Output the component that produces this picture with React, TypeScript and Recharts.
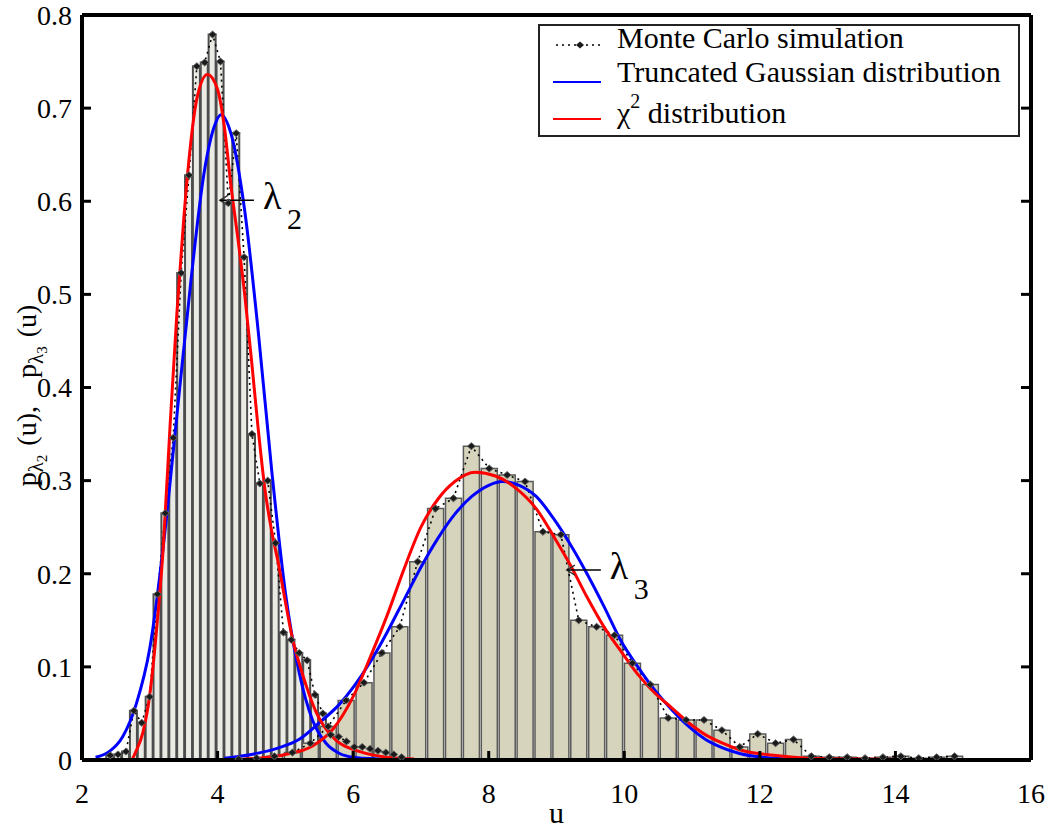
import React from 'react';
import { ComposedChart, Bar, Line, XAxis, YAxis, Legend, ReferenceDot } from 'recharts';

const SERIF = "'Liberation Serif', 'Times New Roman', serif";
const W = 1050;
const H = 832;
// plot box inside the svg: x 82..1031, y 15..760
const BOX_MARGIN = { top: 15, right: 19, bottom: 72, left: 82 };

const X_TICKS = [2, 4, 6, 8, 10, 12, 14, 16];
const Y_TICKS = [0, 0.1, 0.2, 0.3, 0.4, 0.5, 0.6, 0.7, 0.8];

// Monte Carlo histogram of lambda_2
const LAMBDA2_U = [2.416, 2.532, 2.649, 2.765, 2.881, 2.997, 3.113, 3.229, 3.346, 3.462, 3.578, 3.694, 3.81, 3.926, 4.043, 4.159, 4.275, 4.391, 4.507, 4.624, 4.74, 4.856, 4.972, 5.088, 5.204, 5.321, 5.437, 5.553, 5.669, 5.785, 5.901, 6.018, 6.134, 6.25, 6.366, 6.482, 6.599, 6.715];
const LAMBDA2_MC = [0.005, 0.006, 0.009, 0.053, 0.04, 0.068, 0.178, 0.265, 0.346, 0.523, 0.628, 0.745, 0.749, 0.779, 0.75, 0.598, 0.673, 0.54, 0.35, 0.297, 0.3, 0.233, 0.137, 0.129, 0.115, 0.107, 0.07, 0.05, 0.027, 0.025, 0.02, 0.014, 0.014, 0.012, 0.01, 0.008, 0.006, 0.003];

// Monte Carlo histogram of lambda_3
const LAMBDA3_U = [4.312, 4.576, 4.84, 5.104, 5.368, 5.632, 5.896, 6.16, 6.424, 6.688, 6.952, 7.216, 7.48, 7.744, 8.008, 8.272, 8.536, 8.8, 9.064, 9.328, 9.592, 9.856, 10.12, 10.384, 10.648, 10.912, 11.176, 11.44, 11.704, 11.968, 12.232, 12.496, 12.76, 13.024, 13.288, 13.552, 13.816, 14.08, 14.344, 14.608, 14.872];
const LAMBDA3_MC = [0.001, 0.002, 0.004, 0.008, 0.018, 0.036, 0.064, 0.083, 0.115, 0.143, 0.213, 0.27, 0.281, 0.337, 0.313, 0.306, 0.299, 0.245, 0.242, 0.15, 0.143, 0.134, 0.104, 0.081, 0.045, 0.043, 0.043, 0.032, 0.014, 0.028, 0.018, 0.022, 0.004, 0.003, 0.003, 0.002, 0.003, 0.004, 0.002, 0.003, 0.004];

// truncated Gaussian fits
const GAUSS2_U = [2.2, 2.4, 2.6, 2.8, 3.0, 3.2, 3.4, 3.6, 3.8, 3.95, 4.05, 4.2, 4.4, 4.6, 4.8, 5.0, 5.2, 5.4, 5.6, 5.8, 6.0, 6.4, 6.9];
const GAUSS2_P = [0.003, 0.009, 0.025, 0.06, 0.12, 0.23, 0.37, 0.51, 0.63, 0.68, 0.693, 0.672, 0.59, 0.46, 0.31, 0.18, 0.095, 0.043, 0.018, 0.007, 0.003, 0.001, 0];
const GAUSS3_U = [4.1, 4.5, 4.9, 5.2, 5.5, 5.8, 6.0, 6.25, 6.5, 6.75, 7.0, 7.25, 7.5, 7.75, 8.0, 8.2, 8.45, 8.7, 8.95, 9.2, 9.45, 9.7, 9.95, 10.2, 10.45, 10.7, 10.95, 11.2, 11.45, 11.7, 12.2, 12.95];
const GAUSS3_P = [0.002, 0.006, 0.013, 0.022, 0.04, 0.06, 0.078, 0.105, 0.137, 0.172, 0.207, 0.238, 0.264, 0.283, 0.295, 0.299, 0.295, 0.283, 0.26, 0.232, 0.2, 0.165, 0.128, 0.1, 0.075, 0.054, 0.036, 0.022, 0.013, 0.007, 0.002, 0];

// chi-square fits
const CHI2_U = [2.2, 2.72, 2.8, 2.9, 3.0, 3.1, 3.2, 3.3, 3.4, 3.5, 3.6, 3.7, 3.85, 4.0, 4.1, 4.2, 4.3, 4.4, 4.5, 4.6, 4.7, 4.8, 4.9, 5.0, 5.1, 5.25, 5.45, 5.75, 6.1, 6.5, 6.9];
const CHI2_P = [0, 0, 0.01, 0.03, 0.07, 0.14, 0.23, 0.36, 0.48, 0.58, 0.66, 0.712, 0.736, 0.72, 0.68, 0.615, 0.56, 0.5, 0.43, 0.355, 0.29, 0.245, 0.21, 0.17, 0.132, 0.093, 0.052, 0.021, 0.009, 0.003, 0.001];
const CHI3_U = [4.1, 4.6, 5.0, 5.4, 5.7, 6.0, 6.25, 6.5, 6.75, 7.0, 7.25, 7.5, 7.8, 8.1, 8.4, 8.7, 9.0, 9.2, 9.45, 9.7, 9.95, 10.2, 10.45, 10.7, 10.95, 11.2, 11.45, 11.7, 12.2, 12.7, 13.5, 14.8];
const CHI3_P = [0, 0.002, 0.006, 0.015, 0.033, 0.068, 0.11, 0.155, 0.205, 0.25, 0.28, 0.299, 0.309, 0.305, 0.292, 0.27, 0.235, 0.21, 0.175, 0.143, 0.117, 0.092, 0.072, 0.056, 0.04, 0.027, 0.018, 0.011, 0.005, 0.002, 0.001, 0];

const zip = (us: number[], ps: number[]) => us.map((u, i) => ({ u, p: ps[i] }));

const hist2 = zip(LAMBDA2_U, LAMBDA2_MC);
const hist3 = zip(LAMBDA3_U, LAMBDA3_MC);
const gauss2 = zip(GAUSS2_U, GAUSS2_P);
const gauss3 = zip(GAUSS3_U, GAUSS3_P);
const chi2 = zip(CHI2_U, CHI2_P);
const chi3 = zip(CHI3_U, CHI3_P);

const serifStyle = { fontFamily: SERIF };

function McDot(props: any) {
  const { cx, cy, index } = props;
  if (cx == null || cy == null) return <g key={index} />;
  return (
    <path
      key={index}
      d={`M${cx - 4},${cy} L${cx},${cy - 3.5} L${cx + 4},${cy} L${cx},${cy + 3.5} Z`}
      fill="#1a1a1a"
      stroke="#666"
      strokeWidth={1}
    />
  );
}

function Pointer(props: any) {
  const { cx, cy, sub } = props;
  return (
    <g>
      <path d={`M${cx + 8},${cy - 5} L${cx},${cy} L${cx + 8},${cy + 5}`} stroke="#333" strokeWidth={1.5} fill="none" />
      <line x1={cx} y1={cy} x2={cx + 34} y2={cy} stroke="#000" strokeWidth={1.5} />
      <text x={cx + 43} y={cy + 9} style={serifStyle} fontSize={38} fill="#000">λ</text>
      <text x={cx + 67} y={cy + 29} style={serifStyle} fontSize={30} fill="#000">{sub}</text>
    </g>
  );
}

function XTick(props: any) {
  const { x, y, payload } = props;
  return (
    <text x={x} y={y} dy="0.71em" textAnchor="middle" style={serifStyle} fontSize={28} fill="#000">
      {payload.value}
    </text>
  );
}

function YTick(props: any) {
  const { x, y, payload } = props;
  return (
    <text x={x} y={y} dy="0.35em" textAnchor="end" style={serifStyle} fontSize={28} fill="#000">
      {payload.value}
    </text>
  );
}

function YLabel(props: any) {
  const vb = props.viewBox;
  const x = vb.x + 14;
  const y = vb.y + vb.height / 2 + 8;
  return (
    <text transform={`translate(${x},${y}) rotate(-90)`} textAnchor="middle" style={serifStyle} fontSize={28} fill="#000">
      p<tspan fontSize={21} dy={7}>λ</tspan><tspan fontSize={15} dy={4}>2</tspan>
      <tspan dy={-11} dx={9}>(u),</tspan><tspan dx={28}>p</tspan><tspan fontSize={21} dy={7}>λ</tspan><tspan fontSize={15} dy={4}>3</tspan>
      <tspan dy={-11} dx={9}>(u)</tspan>
    </text>
  );
}

function XLabel(props: any) {
  const vb = props.viewBox;
  return (
    <text x={vb.x + vb.width / 2} y={vb.y + vb.height + 3} textAnchor="middle" style={serifStyle} fontSize={30} fill="#000">
      u
    </text>
  );
}

function LegendBox() {
  return (
    <svg width={482} height={123} style={{ display: 'block' }}>
      <rect x={1} y={11} width={480} height={111} fill="#fff" stroke="#222" strokeWidth={2} />
      <line x1={18} y1={31} x2={64} y2={31} stroke="#000" strokeWidth={1.6} strokeDasharray="2 4" />
      <path d="M38,31 L42,27.5 L46,31 L42,34.5 Z" fill="#1a1a1a" />
      <text x={79} y={34} style={serifStyle} fontSize={30} fill="#000">Monte Carlo simulation</text>
      <line x1={15} y1={68} x2={63} y2={68} stroke="#0000ff" strokeWidth={2} />
      <text x={79} y={68} style={serifStyle} fontSize={30} fill="#000">Truncated Gaussian distribution</text>
      <line x1={15} y1={105} x2={63} y2={105} stroke="#ff0000" strokeWidth={2} />
      <text x={79} y={109} style={serifStyle} fontSize={30} fill="#000">
        χ<tspan fontSize={20} dy={-15}>2</tspan><tspan dy={15}> distribution</tspan>
      </text>
    </svg>
  );
}

function HistLayer({ data, barSize, fill, stroke, strokeWidth }: { data: { u: number; p: number }[]; barSize: number; fill: string; stroke: string; strokeWidth: number }) {
  return (
    <div style={{ position: 'absolute', left: 0, top: 0 }}>
      <ComposedChart width={W} height={H} data={data} margin={BOX_MARGIN}>
        <XAxis dataKey="u" type="number" domain={[2, 16]} allowDataOverflow hide />
        <YAxis type="number" domain={[0, 0.8]} allowDataOverflow hide />
        <Bar dataKey="p" barSize={barSize} fill={fill} stroke={stroke} strokeWidth={strokeWidth} isAnimationActive={false} />
      </ComposedChart>
    </div>
  );
}

const axisLine = { stroke: '#000', strokeWidth: 4 };
const tickLine = { stroke: '#000', strokeWidth: 3 };
const noLabel = () => <g />;

export default function App() {
  return (
    <div style={{ position: 'absolute', left: 0, top: 0, width: W, height: H, overflow: 'hidden', background: '#fff', fontFamily: SERIF }}>
      <HistLayer data={hist2} barSize={7} fill="#ebebe5" stroke="#4d4d4d" strokeWidth={2} />
      <HistLayer data={hist3} barSize={16} fill="#d6d4bc" stroke="#5a5a5a" strokeWidth={1.5} />
      <div style={{ position: 'absolute', left: 0, top: 0 }}>
        <ComposedChart width={W} height={H} margin={{ top: 14, right: 18, bottom: 12, left: 22 }}>
          <XAxis
            xAxisId="x"
            dataKey="u"
            type="number"
            domain={[2, 16]}
            allowDataOverflow
            ticks={X_TICKS}
            interval={0}
            height={60}
            axisLine={axisLine}
            tickLine={tickLine}
            tickSize={-9}
            tickMargin={32}
            tick={XTick}
            label={(p: any) => <XLabel {...p} />}
          />
          <XAxis
            xAxisId="top"
            orientation="top"
            type="number"
            domain={[2, 16]}
            allowDataOverflow
            ticks={X_TICKS}
            interval={0}
            height={1}
            axisLine={axisLine}
            tickLine={tickLine}
            tickSize={-8}
            tick={noLabel}
          />
          <YAxis
            yAxisId="y"
            type="number"
            domain={[0, 0.8]}
            allowDataOverflow
            ticks={Y_TICKS}
            interval={0}
            width={60}
            axisLine={axisLine}
            tickLine={tickLine}
            tickSize={-9}
            tickMargin={19}
            tick={YTick}
            label={(p: any) => <YLabel {...p} />}
          />
          <YAxis
            yAxisId="right"
            orientation="right"
            type="number"
            domain={[0, 0.8]}
            allowDataOverflow
            ticks={Y_TICKS}
            interval={0}
            width={1}
            axisLine={axisLine}
            tickLine={tickLine}
            tickSize={-10}
            tick={noLabel}
          />
          <Line xAxisId="x" yAxisId="y" data={hist2} dataKey="p" type="linear" stroke="#000" strokeWidth={1.6} strokeDasharray="2 4" dot={McDot} activeDot={false} isAnimationActive={false} />
          <Line xAxisId="x" yAxisId="y" data={hist3} dataKey="p" type="linear" stroke="#000" strokeWidth={1.6} strokeDasharray="2 4" dot={McDot} activeDot={false} isAnimationActive={false} />
          <Line xAxisId="x" yAxisId="y" data={gauss2} dataKey="p" type="monotone" stroke="#0000ff" strokeWidth={3} dot={false} isAnimationActive={false} />
          <Line xAxisId="x" yAxisId="y" data={gauss3} dataKey="p" type="monotone" stroke="#0000ff" strokeWidth={3} dot={false} isAnimationActive={false} />
          <Line xAxisId="x" yAxisId="y" data={chi2} dataKey="p" type="monotone" stroke="#ff0000" strokeWidth={3} dot={false} isAnimationActive={false} />
          <Line xAxisId="x" yAxisId="y" data={chi3} dataKey="p" type="monotone" stroke="#ff0000" strokeWidth={3} dot={false} isAnimationActive={false} />
          <ReferenceDot xAxisId="x" yAxisId="y" x={4.035} y={0.601} r={0} shape={(p: any) => <Pointer {...p} sub="2" />} />
          <ReferenceDot xAxisId="x" yAxisId="y" x={9.153} y={0.204} r={0} shape={(p: any) => <Pointer {...p} sub="3" />} />
          <Legend
            layout="horizontal"
            verticalAlign="middle"
            align="center"
            content={() => <LegendBox />}
            wrapperStyle={{ top: 14, left: 538, width: 482, height: 123 }}
          />
        </ComposedChart>
      </div>
    </div>
  );
}
